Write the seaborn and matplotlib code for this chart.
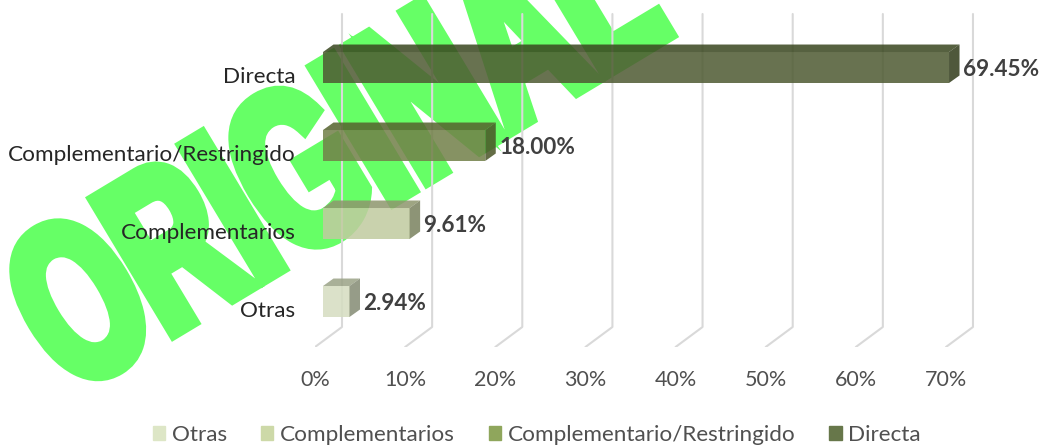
import matplotlib
matplotlib.use('Agg')
import matplotlib.pyplot as plt
import matplotlib.patheffects as pe
from matplotlib.colors import to_rgb
from matplotlib.patches import Patch
from matplotlib.transforms import Affine2D
import numpy as np
import pandas as pd
import seaborn as sns

categorias = ['Directa', 'Complementario/Restringido', 'Complementarios', 'Otras']
valores = [69.45, 18.00, 9.61, 2.94]
etiquetas = ['69.45%', '18.00%', '9.61%', '2.94%']
colores = ['#51622C', '#778940', '#C5D299', '#D7E2BC']
marcas_x = [0, 10, 20, 30, 40, 50, 60, 70]
marcas_txt = ['0%', '10%', '20%', '30%', '40%', '50%', '60%', '70%']
orden_leyenda = ['Otras', 'Complementarios', 'Complementario/Restringido', 'Directa']
colores_leyenda = ['#DDE6C6', '#CDD9A8', '#8FA65C', '#67774A']

sns.set_theme(style='white')
plt.rcParams['font.family'] = ['Lato', 'DejaVu Sans']


# la marca de agua es mas estrecha que cualquier fuente instalada
class Estrecha(pe.AbstractPathEffect):
    def __init__(self, escala, grosor):
        super().__init__()
        self.escala = escala
        self.grosor = grosor

    def draw_path(self, renderer, gc, tpath, affine, rgbFace=None):
        gc0 = renderer.new_gc()
        gc0.copy_properties(gc)
        gc0.set_linewidth(self.grosor)
        gc0.set_foreground(rgbFace)
        gc0.set_joinstyle('miter')
        renderer.draw_path(gc0, tpath, Affine2D().scale(self.escala, 1) + affine, rgbFace)
        gc0.restore()


W, H = 1040, 447
fig = plt.figure(figsize=(W / 100, H / 100), dpi=100)
# eje en pixeles: 0% del frente en x=315, piso en y=347
ax = fig.add_axes([315 / W, (H - 347) / H, (W - 315) / W, 347 / H])
ax.patch.set_visible(False)

fig.text(70 / W, (H - 395) / H, 'ORIGINAL', color='#66FF66', fontsize=162,
         fontweight='bold', family='Liberation Sans', rotation=31, ha='left',
         va='baseline', rotation_mode='anchor', zorder=-1,
         path_effects=[Estrecha(0.64, 10)])

df = pd.DataFrame({'categoria': categorias, 'valor': valores})
sns.barplot(data=df, y='categoria', x='valor', hue='categoria', order=categorias,
            hue_order=categorias, palette=colores, alpha=0.86, width=0.397,
            legend=False, dodge=False, linewidth=0, ax=ax)

px_x = 9.014
px_y = 78.0
ax.set_xlim(-8 / px_x, (W - 323) / px_x)
ax.set_ylim((347 - 67.5) / px_y, -67.5 / px_y)

# rejilla de la pared y del piso
fondo = 19 / px_x
frente = -8 / px_x
y_alto = (14 - 67.5) / px_y
y_pared = (327 - 67.5) / px_y
y_piso = (347 - 67.5) / px_y
for v in marcas_x:
    ax.plot([v + fondo, v + fondo, v + frente], [y_alto, y_pared, y_piso],
            color='#D9D9D9', lw=1.5, zorder=0.5, solid_joinstyle='round')

# caras superior y lateral de las barras
dx = 10.5 / px_x
dy = 7.5 / px_y
alto = 0.397 / 2
for i, (v, c) in enumerate(zip(valores, colores)):
    oscuro = tuple(np.array(to_rgb(c)) * 0.72)
    oscuro2 = tuple(np.array(to_rgb(c)) * 0.62)
    ax.fill([0, dx, v + dx, v], [i - alto, i - alto - dy, i - alto - dy, i - alto],
            color=oscuro, alpha=0.86, lw=0, zorder=2)
    ax.fill([v, v + dx, v + dx, v], [i - alto, i - alto - dy, i + alto - dy, i + alto],
            color=oscuro2, alpha=0.86, lw=0, zorder=2)

for cont, txt in zip(ax.containers, etiquetas):
    for t in ax.bar_label(cont, labels=[txt], padding=10, fontsize=16.2, fontweight='bold',
                          color='#404040'):
        t.xyann = (10, -1.5)

ax.set_yticks(np.arange(4) + 0.1)
ax.set_yticklabels(categorias, fontsize=16.2, color='#262626')
ax.set_xticks(np.array(marcas_x) + frente)
ax.set_xticklabels(marcas_txt, fontsize=15.5, color='#505050')
ax.tick_params(axis='y', length=0, pad=14)
ax.tick_params(axis='x', length=0, pad=16.5)
ax.set_xlabel('')
ax.set_ylabel('')
sns.despine(ax=ax, left=True, bottom=True)

handles = [Patch(color=c, label=t) for c, t in zip(colores_leyenda, orden_leyenda)]
fig.legend(handles=handles, ncol=4, loc='center', bbox_to_anchor=(537 / W, (H - 435) / H),
           frameon=False, fontsize=16.2, labelcolor='#505050', handlelength=0.55,
           handleheight=0.55, handletextpad=0.3, columnspacing=1.5)

fig.savefig('out.png', dpi=100)
